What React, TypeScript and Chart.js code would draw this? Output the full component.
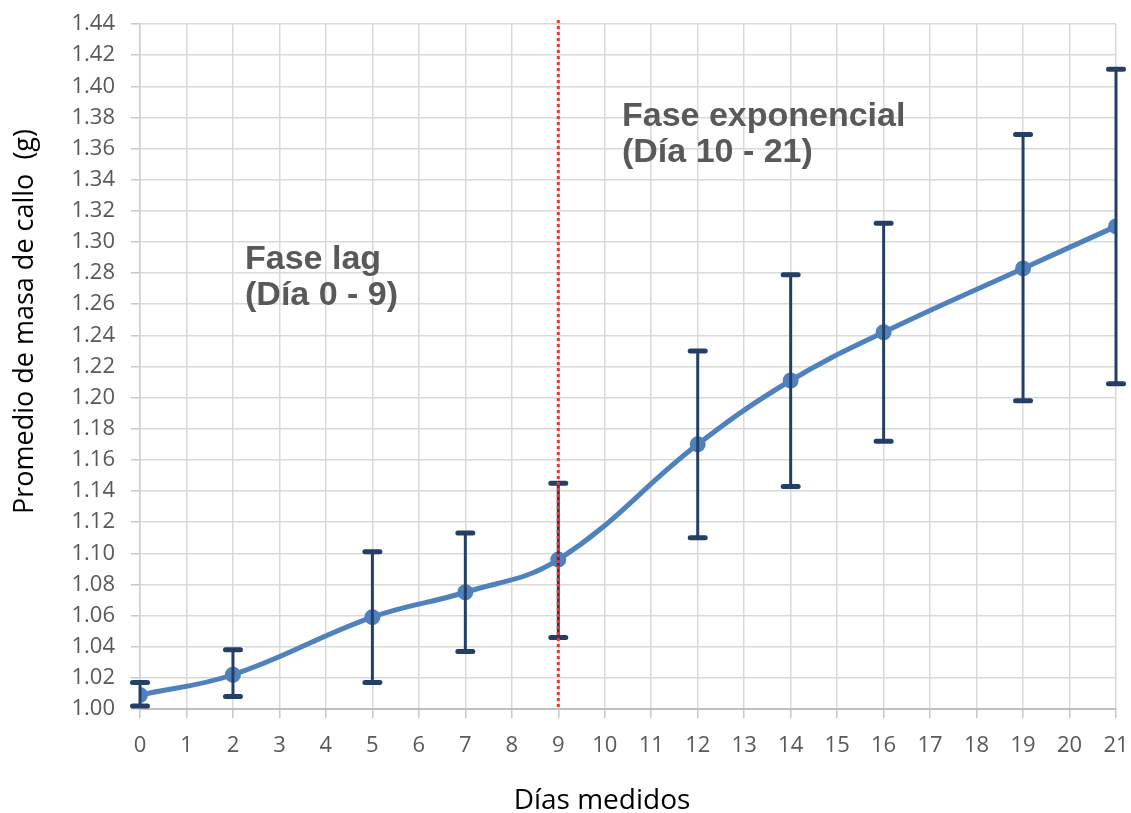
import React, { useEffect, useRef } from "react";
import { Chart, registerables } from "chart.js";

Chart.register(...registerables);

const days = [0, 2, 5, 7, 9, 12, 14, 16, 19, 21];
const meanMass = [1.009, 1.022, 1.059, 1.075, 1.096, 1.17, 1.211, 1.242, 1.283, 1.31];
const errUpper = [1.017, 1.038, 1.101, 1.113, 1.145, 1.23, 1.279, 1.312, 1.369, 1.411];
const errLower = [1.002, 1.008, 1.017, 1.037, 1.046, 1.11, 1.143, 1.172, 1.198, 1.209];
const yTickValues = [1.0, 1.02, 1.04, 1.06, 1.08, 1.1, 1.12, 1.14, 1.16, 1.18, 1.2, 1.22, 1.24, 1.26, 1.28, 1.3, 1.32, 1.34, 1.36, 1.38, 1.4, 1.42, 1.44];
const phaseBoundaryDay = 9;
const annotationLines = [
  { x: 2.26, y: 1.2826, lines: ["Fase lag", "(Día 0 - 9)"] },
  { x: 10.37, y: 1.3745, lines: ["Fase exponencial", "(Día 10 - 21)"] },
];
const xTitle = "Días medidos";
const yTitle = "Promedio de masa de callo  (g)";

const LINE_COLOR = "#4f81bd";
const ERR_COLOR = "#243f66";

const overlayPlugin = {
  id: "overlay",
  afterDatasetsDraw(chart: any) {
    const ctx = chart.ctx;
    const xs = chart.scales.x;
    const ys = chart.scales.y;
    const area = chart.chartArea;
    ctx.save();
    // error bars
    ctx.strokeStyle = ERR_COLOR;
    days.forEach((d, i) => {
      const px = xs.getPixelForValue(d);
      const top = ys.getPixelForValue(errUpper[i]);
      const bot = ys.getPixelForValue(errLower[i]);
      ctx.lineCap = "butt";
      ctx.lineWidth = 3;
      ctx.beginPath();
      ctx.moveTo(px, top);
      ctx.lineTo(px, bot);
      ctx.stroke();
      ctx.lineCap = "round";
      ctx.lineWidth = 5;
      ctx.beginPath();
      ctx.moveTo(px - 7.5, top);
      ctx.lineTo(px + 7.5, top);
      ctx.moveTo(px - 7.5, bot);
      ctx.lineTo(px + 7.5, bot);
      ctx.stroke();
    });
    // phase boundary
    const bx = xs.getPixelForValue(phaseBoundaryDay);
    ctx.strokeStyle = "#ef3434";
    ctx.lineWidth = 3;
    ctx.lineCap = "butt";
    ctx.setLineDash([3, 3]);
    ctx.beginPath();
    ctx.moveTo(bx, area.top - 4);
    ctx.lineTo(bx, area.bottom);
    ctx.stroke();
    ctx.setLineDash([]);
    // annotations
    ctx.fillStyle = "#595959";
    ctx.font = "bold 34px 'Liberation Sans', Arial, sans-serif";
    ctx.textAlign = "left";
    ctx.textBaseline = "alphabetic";
    annotationLines.forEach((a) => {
      const ax = xs.getPixelForValue(a.x);
      const ay = ys.getPixelForValue(a.y);
      a.lines.forEach((t, j) => ctx.fillText(t, ax, ay + j * 36));
    });
    // axis titles
    ctx.fillStyle = "#000";
    ctx.textAlign = "center";
    ctx.textBaseline = "alphabetic";
    ctx.font = "28px 'Open Sans', sans-serif";
    ctx.fillText(xTitle, 602, 809);
    ctx.font = "27px 'Open Sans', sans-serif";
    ctx.translate(33, 321.5);
    ctx.rotate(-Math.PI / 2);
    ctx.fillText(yTitle, 0, 0);
    ctx.restore();
  },
};

export default function App() {
  const ref = useRef<HTMLCanvasElement>(null);
  useEffect(() => {
    document.body.style.margin = "0";
    const chart = new Chart(ref.current!, {
      type: "line",
      data: {
        datasets: [
          {
            data: days.map((d, i) => ({ x: d, y: meanMass[i] })),
            borderColor: LINE_COLOR,
            backgroundColor: LINE_COLOR,
            borderWidth: 5,
            pointRadius: 7,
            pointBorderWidth: 2,
            pointBackgroundColor: LINE_COLOR,
            pointBorderColor: LINE_COLOR,
            tension: 0.4,
            fill: false,
          },
        ],
      },
      options: {
        responsive: false,
        animation: false,
        layout: { padding: { top: 24, right: 15, left: 0, bottom: 0 } },
        plugins: { legend: { display: false }, tooltip: { enabled: false } },
        scales: {
          x: {
            type: "linear",
            min: 0,
            max: 21,
            ticks: {
              stepSize: 1,
              color: "#595959",
              font: { family: "'Open Sans'", size: 22 },
              padding: 15,
              maxRotation: 0,
            },
            grid: { color: "#d9d9d9", lineWidth: 1.5, tickLength: 9, tickColor: "#c8c8c8" },
            border: { color: "#c0c0c0", width: 2 },
            afterFit(scale: any) {
              scale.height = 104;
              scale.paddingLeft = 0;
              scale.paddingRight = 0;
            },
          },
          y: {
            type: "linear",
            min: 1.0,
            max: 1.44,
            afterBuildTicks(scale: any) {
              scale.ticks = yTickValues.map((v) => ({ value: v }));
            },
            ticks: {
              color: "#595959",
              font: { family: "'Open Sans'", size: 22 },
              padding: 16,
              callback: (v: any) => Number(v).toFixed(2),
            },
            grid: { color: "#d9d9d9", lineWidth: 1.5, tickLength: 9, tickColor: "#c8c8c8" },
            border: { color: "#d0d0d0", width: 1.5 },
            afterFit(scale: any) {
              scale.width = 140;
              scale.paddingTop = 0;
              scale.paddingBottom = 0;
            },
          },
        },
      },
      plugins: [overlayPlugin],
    });
    return () => chart.destroy();
  }, []);
  return (
    <div style={{ width: 1131, height: 813 }}>
      <canvas ref={ref} width={1131} height={813} />
    </div>
  );
}
